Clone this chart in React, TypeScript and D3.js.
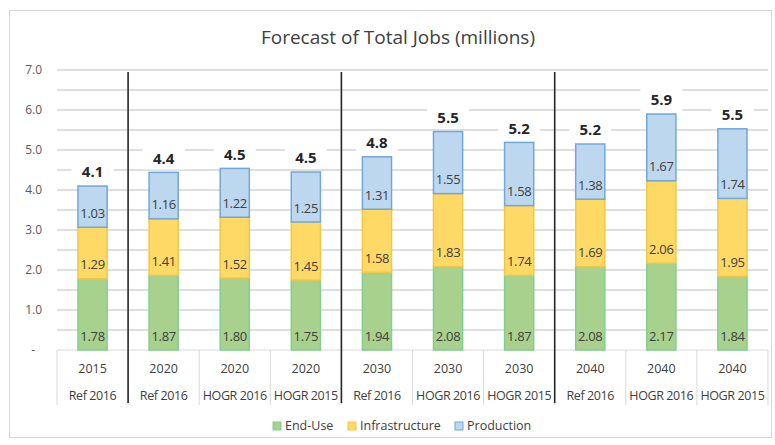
import * as d3 from "d3";

const YEARS = ["2015", "2020", "2020", "2020", "2030", "2030", "2030", "2040", "2040", "2040"];
const SCENARIOS = ["Ref 2016", "Ref 2016", "HOGR 2016", "HOGR 2015", "Ref 2016", "HOGR 2016", "HOGR 2015", "Ref 2016", "HOGR 2016", "HOGR 2015"];
const END_USE = [1.78, 1.87, 1.8, 1.75, 1.94, 2.08, 1.87, 2.08, 2.17, 1.84];
const INFRASTRUCTURE = [1.29, 1.41, 1.52, 1.45, 1.58, 1.83, 1.74, 1.69, 2.06, 1.95];
const PRODUCTION = [1.03, 1.16, 1.22, 1.25, 1.31, 1.55, 1.58, 1.38, 1.67, 1.74];
const TOTALS = [4.1, 4.4, 4.5, 4.5, 4.8, 5.5, 5.2, 5.2, 5.9, 5.5];
const Y_TICKS = [0, 1, 2, 3, 4, 5, 6, 7];
// index of the first category of each new year group
const GROUP_BREAKS = [1, 4, 7];

const SERIES = [
  { name: "End-Use", values: END_USE, fill: "#a9d18e", stroke: "#7fd08f" },
  { name: "Infrastructure", values: INFRASTRUCTURE, fill: "#ffd966", stroke: "#f2c744" },
  { name: "Production", values: PRODUCTION, fill: "#bdd7ee", stroke: "#6fa8dc" },
];

const WIDTH = 775;
const HEIGHT = 445;
const MARGIN = { top: 70, right: 7, bottom: 95, left: 57 };
const FONT = "Open Sans, sans-serif";

export default function App() {
  const boundsWidth = WIDTH - MARGIN.left - MARGIN.right;
  const boundsHeight = HEIGHT - MARGIN.top - MARGIN.bottom;

  const xScale = d3
    .scaleBand<number>()
    .domain(d3.range(YEARS.length))
    .range([0, boundsWidth])
    .paddingInner(0.59)
    .paddingOuter(0.295);

  const yScale = d3.scaleLinear().domain([0, 7]).range([boundsHeight, 0]);

  const step = xScale.step();
  const catLeft = (i: number) => xScale(i)! - (step - xScale.bandwidth()) / 2;

  const stackData = YEARS.map((_, i) => ({
    i,
    "End-Use": END_USE[i],
    Infrastructure: INFRASTRUCTURE[i],
    Production: PRODUCTION[i],
  }));
  const stacked = d3
    .stack<any>()
    .keys(SERIES.map((s) => s.name))(stackData);

  const gridValues = d3.range(0.5, 7.01, 0.5);

  return (
    <svg width={WIDTH} height={HEIGHT} style={{ position: "absolute", left: 0, top: 0 }}>
      <rect x={0} y={0} width={WIDTH} height={HEIGHT} fill="white" />
      <rect x={9.5} y={10.5} width={762} height={427} fill="white" stroke="#d9d9d9" />
      <text
        x={398}
        y={44}
        textAnchor="middle"
        fontFamily={FONT}
        fontSize={19}
        fill="#404040"
      >
        Forecast of Total Jobs (millions)
      </text>

      <g transform={`translate(${MARGIN.left},${MARGIN.top})`}>
        {/* gridlines */}
        {gridValues.map((v) => (
          <line
            key={v}
            x1={0}
            x2={boundsWidth}
            y1={yScale(v)}
            y2={yScale(v)}
            stroke="#d4d4d4"
            strokeWidth={1.3}
          />
        ))}

        {/* y axis labels */}
        {Y_TICKS.map((v) => (
          <text
            key={v}
            x={v === 0 ? -22 : -15}
            y={yScale(v)}
            dy="0.35em"
            textAnchor="end"
            fontFamily={FONT}
            fontSize={12}
            fill="#595959"
          >
            {v === 0 ? "-" : v.toFixed(1)}
          </text>
        ))}

        {/* category axis */}
        <line x1={0} x2={boundsWidth} y1={boundsHeight} y2={boundsHeight} stroke="#d9d9d9" />
        {d3.range(YEARS.length + 1).map((i) => {
          const x = i < YEARS.length ? catLeft(i) : boundsWidth;
          return (
            <line
              key={i}
              x1={x}
              x2={x}
              y1={boundsHeight}
              y2={boundsHeight + 55}
              stroke="#d9d9d9"
            />
          );
        })}
        {YEARS.map((y, i) => (
          <g key={i} transform={`translate(${xScale(i)! + xScale.bandwidth() / 2},0)`}>
            <text
              y={boundsHeight + 19}
              dy="0.35em"
              textAnchor="middle"
              fontFamily={FONT}
              fontSize={12.5}
              fill="#404040"
            >
              {y}
            </text>
            <text
              y={boundsHeight + 46}
              dy="0.35em"
              textAnchor="middle"
              fontFamily={FONT}
              fontSize={12.5}
              fill="#404040"
              letterSpacing={-0.4}
            >
              {SCENARIOS[i]}
            </text>
          </g>
        ))}

        {/* bars */}
        {stacked.map((layer, si) =>
          layer.map((d, i) => {
            const x = xScale(i)!;
            const y0 = yScale(d[0]);
            const y1 = yScale(d[1]);
            return (
              <g key={`${si}-${i}`}>
                <rect
                  x={x}
                  y={y1}
                  width={xScale.bandwidth()}
                  height={y0 - y1}
                  fill={SERIES[si].fill}
                  stroke={SERIES[si].stroke}
                  strokeWidth={1.5}
                />
                <text
                  x={x + xScale.bandwidth() / 2}
                  y={y0 - 14}
                  dy="0.35em"
                  textAnchor="middle"
                  fontFamily={FONT}
                  fontSize={13}
                  fill="#404040"
                  letterSpacing={-0.3}
                >
                  {SERIES[si].values[i].toFixed(2)}
                </text>
              </g>
            );
          })
        )}

        {/* totals */}
        {TOTALS.map((t, i) => {
          const cx = xScale(i)! + xScale.bandwidth() / 2;
          const top = yScale(d3.sum(SERIES, (s) => s.values[i]));
          return (
            <g key={i}>
              <rect x={cx - 21} y={top - 25} width={42} height={22} fill="white" />
              <text
                x={cx}
                y={top - 14}
                dy="0.35em"
                textAnchor="middle"
                fontFamily={FONT}
                fontSize={15}
                fontWeight="bold"
                fill="#262626"
              >
                {t.toFixed(1)}
              </text>
            </g>
          );
        })}

        {/* group separators */}
        {GROUP_BREAKS.map((i) => (
          <line
            key={i}
            x1={catLeft(i)}
            x2={catLeft(i)}
            y1={yScale(6.95)}
            y2={boundsHeight + 53}
            stroke="#262626"
            strokeWidth={1.6}
          />
        ))}
      </g>

      {/* legend */}
      <g transform="translate(273,426)">
        {SERIES.map((s, i) => {
          const offsets = [0, 75, 182];
          return (
            <g key={s.name} transform={`translate(${offsets[i]},0)`}>
              <rect x={0} y={-4} width={8} height={8} fill={s.fill} stroke={s.stroke} />
              <text
                x={12}
                y={0}
                dy="0.35em"
                fontFamily={FONT}
                fontSize={12.5}
                fill="#404040"
              >
                {s.name}
              </text>
            </g>
          );
        })}
      </g>
    </svg>
  );
}
